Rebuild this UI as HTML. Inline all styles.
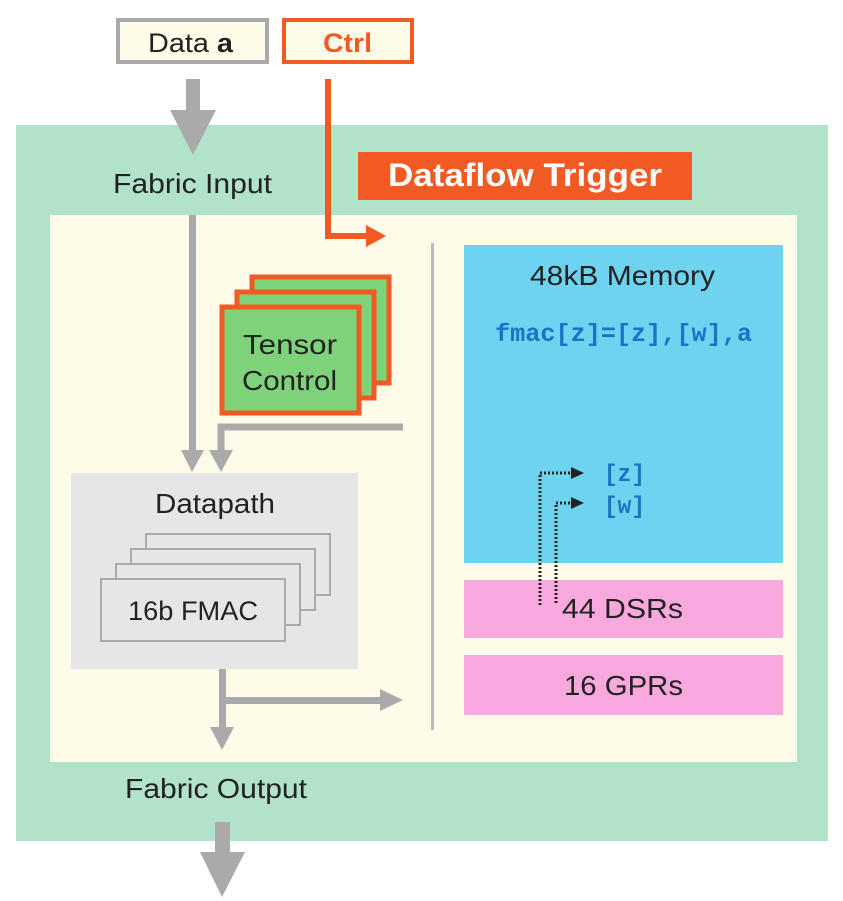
<!DOCTYPE html>
<html><head><style>
html,body{margin:0;padding:0;background:#fff;}
svg{display:block;}
text{font-family:"Liberation Sans",sans-serif;}
.m{font-family:"Liberation Mono",monospace;font-weight:bold;fill:#1a73c8;}
</style></head><body>
<svg width="843" height="901" viewBox="0 0 843 901" xmlns="http://www.w3.org/2000/svg">
<rect x="0" y="0" width="843" height="901" fill="#fff"/>
<rect x="16" y="125" width="812" height="716" fill="#b0e3c9"/>
<rect x="50" y="215" width="747" height="547" fill="#fefbe9"/>
<rect x="118" y="20" width="149" height="42" fill="#fefbe9" stroke="#aaaaaa" stroke-width="4"/>
<text x="148" y="52" font-size="27" textLength="85" lengthAdjust="spacingAndGlyphs" fill="#222">Data <tspan font-weight="bold">a</tspan></text>
<rect x="284" y="20" width="128" height="42" fill="#fefbe9" stroke="#f15a22" stroke-width="4"/>
<text x="323" y="52" font-size="27" font-weight="bold" textLength="49" lengthAdjust="spacingAndGlyphs" fill="#f15a22">Ctrl</text>
<rect x="186" y="79" width="14" height="32" fill="#aaaaaa"/>
<polygon points="170,110 216,110 193,155" fill="#aaaaaa"/>
<text x="113" y="193" font-size="28" textLength="159" lengthAdjust="spacingAndGlyphs" fill="#222">Fabric Input</text>
<rect x="358" y="152" width="334" height="48" fill="#f15a22"/>
<text x="388" y="186" font-size="32" font-weight="bold" textLength="274" lengthAdjust="spacingAndGlyphs" fill="#fff">Dataflow Trigger</text>
<polyline points="328,79 328,236 368,236" fill="none" stroke="#f15a22" stroke-width="6"/>
<polygon points="366,225 386,236 366,247" fill="#f15a22"/>
<rect x="431" y="243" width="3" height="487" fill="#bbbbbb"/>
<rect x="464" y="245" width="319" height="318" fill="#6dd3ef"/>
<text x="530" y="285" font-size="28" textLength="185" lengthAdjust="spacingAndGlyphs" fill="#222">48kB Memory</text>
<text x="495" y="341" font-size="25" class="m" textLength="257" lengthAdjust="spacingAndGlyphs">fmac[z]=[z],[w],a</text>
<text x="604" y="481" font-size="24" class="m" textLength="41" lengthAdjust="spacingAndGlyphs">[z]</text>
<text x="604" y="513" font-size="24" class="m" textLength="41" lengthAdjust="spacingAndGlyphs">[w]</text>
<rect x="464" y="580" width="319" height="58" fill="#f9a9dd"/>
<rect x="464" y="655" width="319" height="60" fill="#f9a9dd"/>
<text x="562" y="618" font-size="28" textLength="121" lengthAdjust="spacingAndGlyphs" fill="#222">44 DSRs</text>
<text x="564" y="695" font-size="28" textLength="119" lengthAdjust="spacingAndGlyphs" fill="#222">16 GPRs</text>
<polyline points="540,605 540,473 572,473" fill="none" stroke="#222" stroke-width="3" stroke-dasharray="2,2"/>
<polygon points="571,467 584,473 571,479" fill="#222"/>
<polyline points="556,603 556,503 572,503" fill="none" stroke="#222" stroke-width="3" stroke-dasharray="2,2"/>
<polygon points="571,497 584,503 571,509" fill="#222"/>
<rect x="252" y="277" width="137" height="106" fill="#7ed37a" stroke="#f15a22" stroke-width="5"/>
<rect x="237" y="292" width="137" height="106" fill="#7ed37a" stroke="#f15a22" stroke-width="5"/>
<rect x="222" y="307" width="137" height="106" fill="#7ed37a" stroke="#f15a22" stroke-width="5"/>
<text x="243" y="354" font-size="28" textLength="94" lengthAdjust="spacingAndGlyphs" fill="#222">Tensor</text>
<text x="242" y="390" font-size="28" textLength="95" lengthAdjust="spacingAndGlyphs" fill="#222">Control</text>
<rect x="189" y="215" width="7" height="240" fill="#aaaaaa"/>
<polygon points="181,450 204,450 192,472" fill="#aaaaaa"/>
<polyline points="403,427 221,427 221,452" fill="none" stroke="#aaaaaa" stroke-width="7"/>
<polygon points="209,450 233,450 221,472" fill="#aaaaaa"/>
<rect x="71" y="473" width="287" height="196" fill="#e6e6e6"/>
<text x="155" y="513" font-size="28" textLength="120" lengthAdjust="spacingAndGlyphs" fill="#222">Datapath</text>
<rect x="146" y="534" width="184" height="61" fill="#e6e6e6" stroke="#aaaaaa" stroke-width="2"/>
<rect x="131" y="549" width="184" height="61" fill="#e6e6e6" stroke="#aaaaaa" stroke-width="2"/>
<rect x="116" y="564" width="184" height="61" fill="#e6e6e6" stroke="#aaaaaa" stroke-width="2"/>
<rect x="101" y="579" width="184" height="62" fill="#e6e6e6" stroke="#aaaaaa" stroke-width="2"/>
<text x="128" y="620" font-size="27" textLength="130" lengthAdjust="spacingAndGlyphs" fill="#222">16b FMAC</text>
<rect x="219" y="669" width="7" height="60" fill="#aaaaaa"/>
<polygon points="210,727 234,727 222,750" fill="#aaaaaa"/>
<rect x="222" y="697" width="160" height="7" fill="#aaaaaa"/>
<polygon points="380,689 403,700 380,711" fill="#aaaaaa"/>
<text x="125" y="798" font-size="28" textLength="182" lengthAdjust="spacingAndGlyphs" fill="#222">Fabric Output</text>
<rect x="215" y="822" width="15" height="32" fill="#aaaaaa"/>
<polygon points="200,852 245,852 222,897" fill="#aaaaaa"/>
</svg>
</body></html>
